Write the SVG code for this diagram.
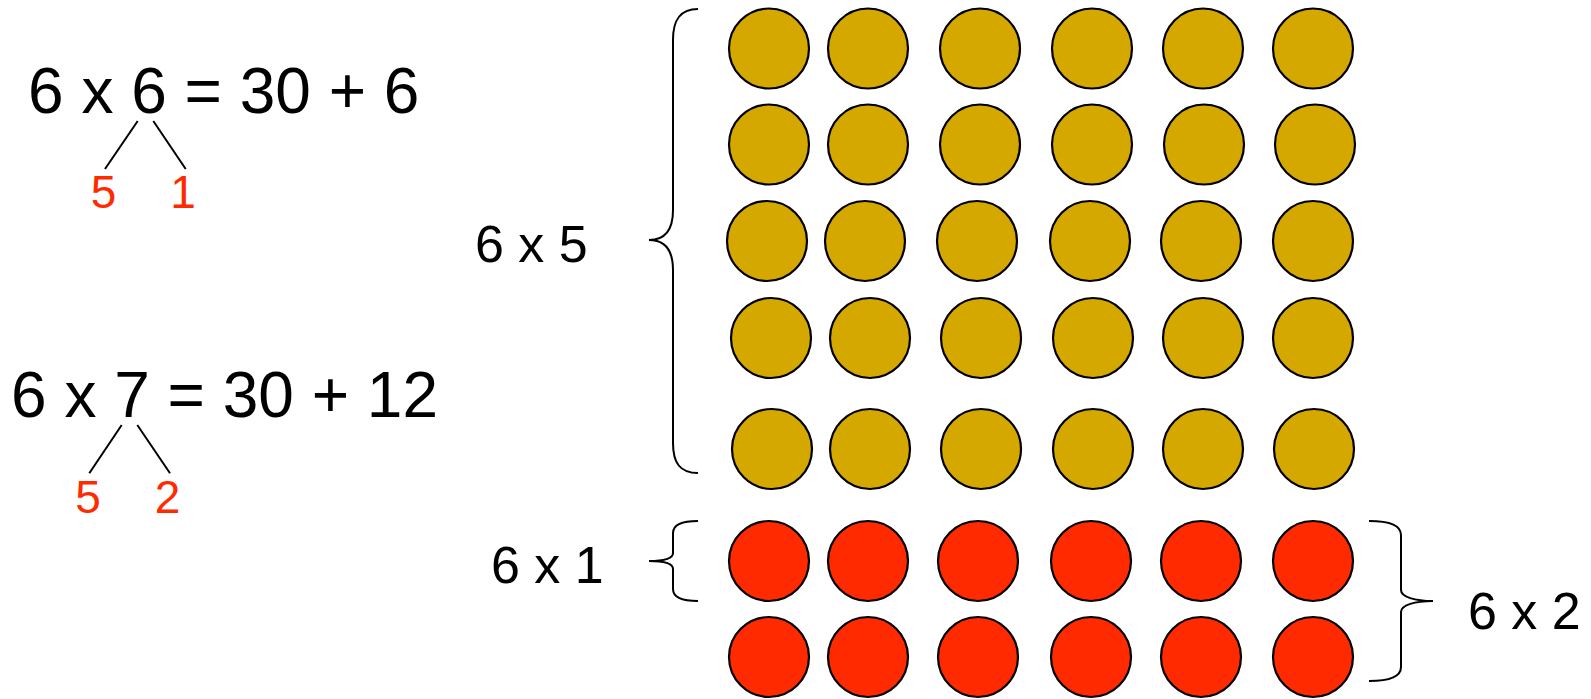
<svg xmlns="http://www.w3.org/2000/svg" width="1591" height="699" viewBox="0 0 1591 699">
<style>
.eq{font-family:"Liberation Sans",Arial,sans-serif;font-size:64px;fill:#000}
.lbl{font-family:"Liberation Sans",Arial,sans-serif;font-size:52px;fill:#000}
.red{font-family:"Liberation Sans",Arial,sans-serif;font-size:46px;fill:#FF2A00;text-anchor:middle}
.ln{stroke:#000;stroke-width:2;fill:none}
.br{stroke:#000;stroke-width:2;fill:none}
.g{fill:#D5A800;stroke:#000;stroke-width:2.2}
.r{fill:#FF2A00;stroke:#000;stroke-width:2.2}
</style>
<rect width="1591" height="699" fill="#fff"/>
<g id="eq1">
<text class="eq" x="28" y="113">6 x 6 = 30 + 6</text>
<line class="ln" x1="137.7" y1="121" x2="105" y2="169"/>
<line class="ln" x1="153.3" y1="121" x2="185.7" y2="169"/>
<text class="red" x="103.5" y="208">5</text>
<text class="red" x="183" y="208">1</text>
</g>
<g id="eq2">
<text class="eq" x="11" y="416.5">6 x 7 = 30 + 12</text>
<line class="ln" x1="121.7" y1="425" x2="89.3" y2="473.3"/>
<line class="ln" x1="137.3" y1="425" x2="170" y2="473.3"/>
<text class="red" x="88" y="512.5">5</text>
<text class="red" x="167.5" y="512.5">2</text>
</g>
<g id="gold">
<circle class="g" cx="769" cy="48.5" r="40"/><circle class="g" cx="868" cy="48.5" r="40"/><circle class="g" cx="980" cy="48.5" r="40"/><circle class="g" cx="1092" cy="48.5" r="40"/><circle class="g" cx="1203" cy="48.5" r="40"/><circle class="g" cx="1313" cy="48.5" r="40"/>
<circle class="g" cx="769" cy="144.5" r="40"/><circle class="g" cx="868" cy="144.5" r="40"/><circle class="g" cx="980" cy="144.5" r="40"/><circle class="g" cx="1092" cy="144.5" r="40"/><circle class="g" cx="1204" cy="144.5" r="40"/><circle class="g" cx="1315" cy="144.5" r="40"/>
<circle class="g" cx="767" cy="241" r="40"/><circle class="g" cx="865" cy="241" r="40"/><circle class="g" cx="977" cy="241" r="40"/><circle class="g" cx="1090" cy="241" r="40"/><circle class="g" cx="1201" cy="241" r="40"/><circle class="g" cx="1313" cy="241" r="40"/>
<circle class="g" cx="771" cy="338" r="40"/><circle class="g" cx="870" cy="338" r="40"/><circle class="g" cx="981" cy="338" r="40"/><circle class="g" cx="1093" cy="338" r="40"/><circle class="g" cx="1203" cy="338" r="40"/><circle class="g" cx="1313" cy="338" r="40"/>
<circle class="g" cx="772" cy="449" r="40"/><circle class="g" cx="870" cy="449" r="40"/><circle class="g" cx="981" cy="449" r="40"/><circle class="g" cx="1093" cy="449" r="40"/><circle class="g" cx="1203" cy="449" r="40"/><circle class="g" cx="1314" cy="449" r="40"/>
</g>
<g id="red">
<circle class="r" cx="769" cy="561" r="40"/><circle class="r" cx="868" cy="561" r="40"/><circle class="r" cx="978" cy="561" r="40"/><circle class="r" cx="1091" cy="561" r="40"/><circle class="r" cx="1201" cy="561" r="40"/><circle class="r" cx="1313" cy="561" r="40"/>
<circle class="r" cx="769" cy="657" r="40"/><circle class="r" cx="868" cy="657" r="40"/><circle class="r" cx="978" cy="657" r="40"/><circle class="r" cx="1091" cy="657" r="40"/><circle class="r" cx="1201" cy="657" r="40"/><circle class="r" cx="1313" cy="657" r="40"/>
</g>
<g id="brace65">
<path class="br" d="M698,9 C680,9 673,20 673,40 L673,210 C673,230 665,240 649,240 C665,240 673,250 673,270 L673,443 C673,463 680,473 698,473"/>
<text class="lbl" x="475" y="262">6 x 5</text>
</g>
<g id="brace61">
<path class="br" d="M698,521 C683,521 673,524 673,533 L673,553 C673,558 665,561 649,561 C665,561 673,564 673,569 L673,589 C673,598 683,601 698,601"/>
<text class="lbl" x="491" y="583">6 x 1</text>
</g>
<g id="brace62">
<path class="br" d="M1369,521 C1390,521 1401,526 1401,535 L1401,590 C1401,597 1415,601 1433,601 C1415,601 1401,605 1401,612 L1401,667 C1401,676 1390,681 1369,681"/>
<text class="lbl" x="1468" y="629">6 x 2</text>
</g>
<g id="connectors"></g>
</svg>
